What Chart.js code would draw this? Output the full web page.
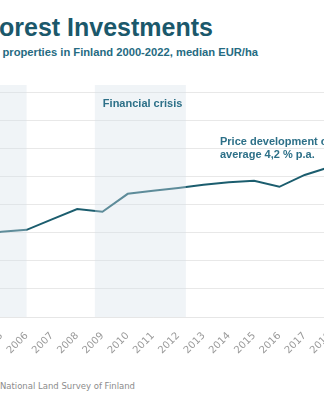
<!DOCTYPE html>
<html>
<head>
<meta charset="utf-8">
<script src="https://cdn.jsdelivr.net/npm/chart.js@4"></script>
<style>
  html, body { margin: 0; padding: 0; background: #fff; }
  body { position: relative; width: 324px; height: 400px; overflow: hidden; }
  .txt { position: absolute; white-space: nowrap; line-height: 1; text-align: right; }
  #title { right: 111px; top: 13px; font: bold 25px "Liberation Sans", Arial, sans-serif; color: #1b586b; }
  #subtitle { right: 66px; top: 45.5px; font: bold 11.2px "Liberation Sans", Arial, sans-serif; color: #256b82; }
  #source { right: 189px; top: 381px; font: 8.5px "DejaVu Sans", sans-serif; color: #8c8c8c; }
  #chart { position: absolute; left: -175px; top: 0; }
</style>
</head>
<body>
<div id="title" class="txt">Forest Investments</div>
<div id="subtitle" class="txt">Prices of forest properties in Finland 2000-2022, median EUR/ha</div>
<canvas id="chart" width="646" height="357"></canvas>
<div id="source" class="txt">Source: National Land Survey of Finland</div>
<script>
  var years = ["2000", "2001", "2002", "2003", "2004", "2005", "2006", "2007", "2008", "2009", "2010",
    "2011", "2012", "2013", "2014", "2015", "2016", "2017", "2018", "2019", "2020", "2021", "2022"];
  var prices = [2350, 2450, 2600, 2750, 2900, 3030, 3100, 3470, 3840, 3740, 4380,
    4490, 4590, 4700, 4790, 4840, 4630, 5050, 5330, 5450, 5600, 5950, 6300];
  // shaded periods, in category index units
  var shadeFrom = [0, 8.7];
  var shadeTo = [6, 12.3];
  var notes = ["Financial crisis", "Price development on\naverage 4,2 % p.a."];

  var teal = "#1b5d6e";
  var noteColor = "#2d7088";

  var overlay = {
    id: "overlay",
    afterDatasetsDraw: function (chart) {
      var ctx = chart.ctx, area = chart.chartArea, x = chart.scales.x;
      ctx.save();
      ctx.fillStyle = "rgba(214, 225, 232, 0.36)";
      for (var i = 0; i < shadeFrom.length; i++) {
        var a = x.getPixelForValue(shadeFrom[i]);
        var b = x.getPixelForValue(shadeTo[i]);
        ctx.fillRect(a, area.top - 7, b - a, area.bottom - area.top + 7);
      }
      ctx.fillStyle = noteColor;
      ctx.font = "bold 11px 'Liberation Sans', Arial, sans-serif";
      ctx.textBaseline = "alphabetic";
      ctx.textAlign = "left";
      ctx.fillText(notes[0], x.getPixelForValue(shadeFrom[1]) + 8, area.top + 15);
      var lines = notes[1].split("\n");
      var nx = x.getPixelForValue(13.65);
      for (var j = 0; j < lines.length; j++) {
        ctx.fillText(lines[j], nx, area.top + 53 + j * 13);
      }
      ctx.restore();
    }
  };

  new Chart(document.getElementById("chart"), {
    type: "line",
    data: {
      labels: years,
      datasets: [{
        data: prices,
        borderColor: teal,
        borderWidth: 2,
        pointRadius: 0,
        tension: 0,
        fill: false
      }]
    },
    options: {
      responsive: false,
      animation: false,
      layout: { padding: { top: 92, right: 40, left: 0, bottom: 0 } },
      plugins: { legend: { display: false }, tooltip: { enabled: false } },
      scales: {
        x: {
          offset: false,
          grid: { display: false },
          border: { color: "#e6e6e6" },
          ticks: {
            color: "#9a9a9a",
            font: { family: "DejaVu Sans", size: 10 },
            minRotation: 45,
            maxRotation: 45,
            autoSkip: false,
            padding: 5
          },
          afterFit: function (scale) { scale.height = 40; }
        },
        y: {
          min: 0,
          max: 8000,
          grid: { color: "#e8e8e8", drawTicks: false },
          border: { display: false },
          ticks: {
            stepSize: 1000,
            color: "#9a9a9a",
            font: { family: "DejaVu Sans", size: 9 },
            padding: 6
          },
          afterFit: function (scale) { scale.width = 50; }
        }
      }
    },
    plugins: [overlay]
  });
</script>
</body>
</html>
